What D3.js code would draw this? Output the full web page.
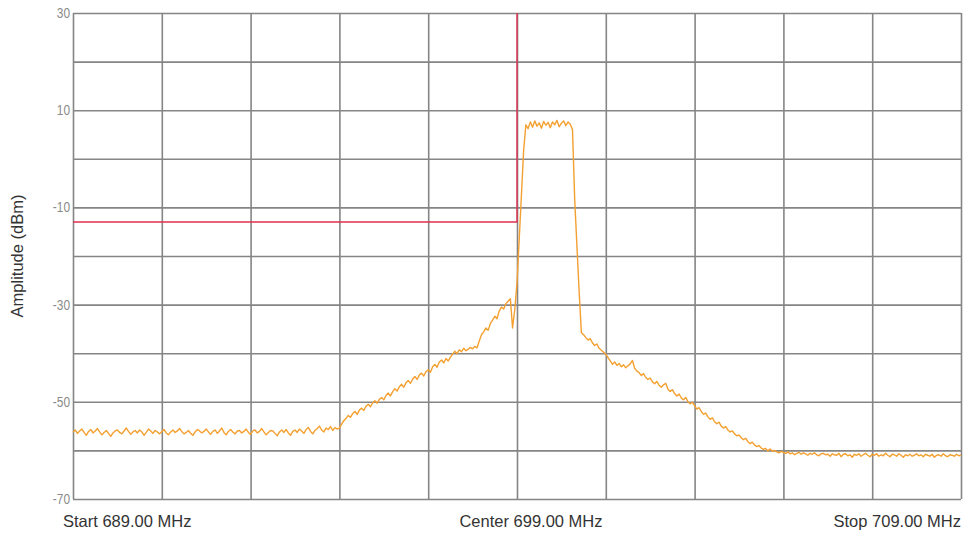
<!DOCTYPE html>
<html><head><meta charset="utf-8">
<script src="https://cdn.jsdelivr.net/npm/d3@7"></script>
<style>
html,body{margin:0;padding:0;background:#fff;}
svg{display:block;}
</style></head>
<body>
<svg id="chart" width="965" height="533"></svg>
<script>
// ---- data ----
const freqStart = 689.00, freqStop = 709.00, freqStep = 0.05; // sweep (MHz)
const xGridValues = [689,691,693,695,697,699,701,703,705,707,709];
const yGridValues = [-70,-60,-50,-40,-30,-20,-10,0,10,20,30];
const yTickLabels = [30,10,-10,-30,-50,-70];
const xLabels = ["Start 689.00 MHz","Center 699.00 MHz","Stop 709.00 MHz"];
const yTitle = "Amplitude (dBm)";
const markerFreq = 699.00;   // red marker vertical
const markerLevel = -13;     // red limit level (dBm)
// amplitude trace (dBm), one value per sweep point
const amplitude = [
-56.2,-55.8,-56.5,-56.0,-55.6,-56.3,-56.9,-56.1,-55.7,-56.4,-56.0,-55.5,-56.2,-56.8,-56.3,-55.9,-56.5,-57.1,-56.4,-56.0,
-55.8,-56.3,-56.6,-56.0,-55.4,-56.1,-56.7,-56.2,-55.9,-56.4,-55.8,-56.2,-56.9,-56.3,-55.6,-56.0,-56.5,-55.9,-56.2,-56.6,
-56.1,-55.7,-56.4,-56.8,-56.2,-55.8,-56.3,-56.0,-55.5,-56.1,-56.6,-56.3,-55.9,-56.5,-56.9,-56.2,-55.7,-56.0,-56.4,-56.1,
-55.6,-56.2,-56.7,-56.1,-55.8,-56.5,-56.0,-55.4,-56.3,-56.8,-56.1,-55.7,-56.2,-56.6,-56.0,-55.9,-56.4,-56.1,-55.6,-56.3,
-56.7,-56.0,-55.8,-56.4,-56.1,-55.5,-56.2,-56.8,-56.3,-55.9,-56.0,-56.5,-57.0,-56.2,-55.8,-56.3,-55.7,-56.4,-56.9,-56.1,
-55.8,-56.3,-55.6,-56.0,-56.5,-55.7,-55.3,-56.1,-56.6,-55.9,-55.5,-55.0,-55.8,-56.2,-55.4,-55.7,-55.1,-55.9,-55.3,-55.6,
-55.4,-54.6,-53.9,-53.4,-52.8,-53.2,-52.4,-52.0,-52.6,-51.7,-51.3,-51.8,-50.9,-50.5,-51.0,-50.2,-49.8,-50.3,-49.5,-49.1,
-49.6,-48.7,-48.2,-48.8,-47.9,-47.3,-47.8,-46.9,-46.4,-47.0,-46.1,-45.6,-46.2,-45.3,-44.8,-45.4,-44.5,-44.1,-44.7,-43.8,
-43.4,-43.9,-42.8,-42.3,-42.9,-41.8,-41.4,-42.0,-41.1,-41.6,-40.8,-40.2,-39.6,-40.1,-39.3,-39.7,-39.0,-39.5,-39.2,-38.8,
-39.1,-38.6,-38.9,-37.5,-36.2,-35.6,-34.8,-35.3,-33.9,-33.2,-32.4,-32.9,-31.3,-30.5,-30.9,-29.8,-29.3,-28.8,-34.8,-31.0,
-25.5,-16.5,-7.4,1.8,7.0,6.2,7.6,6.5,7.8,6.7,7.4,6.3,7.7,6.9,7.5,6.4,7.6,7.0,7.9,6.6,
7.3,7.8,6.8,7.6,7.1,6.0,-8.5,-18.0,-27.4,-35.8,-36.2,-36.8,-37.3,-37.0,-37.9,-38.4,-38.1,-39.0,-39.4,-39.8,
-40.2,-40.9,-41.6,-42.3,-41.8,-42.5,-42.1,-42.8,-42.4,-43.0,-42.6,-42.2,-41.5,-43.1,-43.7,-44.0,-44.6,-44.2,-45.0,-45.4,
-45.1,-45.9,-46.3,-45.8,-46.6,-47.0,-46.5,-46.2,-47.4,-47.9,-47.5,-48.3,-48.8,-48.4,-49.2,-49.6,-49.1,-50.0,-50.4,-50.1,
-50.8,-51.5,-51.2,-52.0,-52.6,-52.3,-53.1,-53.6,-53.3,-54.1,-54.5,-54.2,-55.0,-55.4,-55.1,-55.8,-56.2,-56.0,-56.6,-57.0,
-56.8,-57.4,-57.8,-57.5,-58.2,-58.6,-58.3,-58.9,-59.2,-59.0,-59.5,-59.8,-59.6,-60.1,-59.7,-60.2,-60.0,-60.3,-60.5,-60.2,
-60.4,-60.6,-60.3,-60.7,-60.5,-60.9,-60.6,-60.4,-60.8,-60.5,-60.7,-61.0,-60.6,-60.8,-60.5,-60.9,-61.1,-60.7,-60.6,-60.9,
-60.8,-61.2,-60.7,-60.9,-61.0,-60.6,-61.3,-60.8,-60.7,-61.1,-60.9,-61.4,-60.8,-61.0,-60.7,-61.2,-60.9,-60.6,-61.0,-61.3,
-60.8,-61.0,-60.7,-61.2,-60.9,-61.1,-60.6,-61.0,-61.3,-60.8,-60.9,-61.2,-60.7,-61.0,-61.4,-60.9,-61.1,-60.8,-61.2,-61.0,
-60.7,-61.1,-60.9,-61.3,-60.8,-61.0,-61.2,-60.8,-61.4,-61.0,-60.9,-61.2,-60.7,-61.1,-61.3,-60.9,-61.0,-61.2,-60.8,-61.1,-60.9
];

// ---- layout ----
const margin = {left:73, right:4, top:13, bottom:34};
const W = 965, H = 533;
const svg = d3.select("#chart");
const x = d3.scaleLinear().domain([freqStart, freqStop]).range([margin.left, W - margin.right]);
const y = d3.scaleLinear().domain([-70, 30]).range([H - margin.bottom, margin.top]);
const gridColor = "#858585";
const labFont = "Liberation Sans, Arial, sans-serif";

// vertical grid
svg.append("g").attr("transform", `translate(0,${y(-70)})`)
  .call(d3.axisBottom(x).tickValues(xGridValues).tickSize(-(y(-70) - y(30))).tickFormat(""))
  .call(g => g.select(".domain").remove())
  .call(g => g.selectAll("line").attr("stroke", gridColor).attr("stroke-width", 1.6));

// horizontal grid + y tick labels
const yAxisG = svg.append("g").attr("transform", `translate(${x(freqStart)},0)`)
  .call(d3.axisLeft(y).tickValues(yGridValues).tickSize(-(x(freqStop) - x(freqStart)))
        .tickFormat(d => yTickLabels.includes(d) ? d : ""))
  .call(g => g.select(".domain").remove())
  .call(g => g.selectAll("line").attr("stroke", gridColor).attr("stroke-width", 1.6));
yAxisG.selectAll(".tick text")
  .attr("fill", "#8a8a8a").attr("font-family", labFont).attr("font-size", 14)
  .attr("x", -3 / 0.85).attr("transform", "scale(0.85,1)");

// red marker
svg.append("path")
  .attr("d", d3.line()([[x(freqStart), y(markerLevel)], [x(markerFreq), y(markerLevel)], [x(markerFreq), y(30)]]))
  .attr("fill", "none").attr("stroke", "#e0304e").attr("stroke-width", 1.4);

// trace
const pts = amplitude.map((v, i) => [freqStart + i * freqStep, v]);
svg.append("path")
  .datum(pts)
  .attr("d", d3.line().x(d => x(d[0])).y(d => y(d[1])))
  .attr("fill", "none").attr("stroke", "#f4a030").attr("stroke-width", 1.4).attr("stroke-linejoin", "round");

// x labels
const xl = [[63, "start"], [531, "middle"], [961, "end"]];
xLabels.forEach((t, i) => {
  svg.append("text").attr("x", xl[i][0]).attr("y", 527).attr("text-anchor", xl[i][1])
    .attr("font-family", labFont).attr("font-size", 16.5).attr("fill", "#333").text(t);
});

// y title
svg.append("text").attr("transform", `translate(23,${(y(30)+y(-70))/2}) rotate(-90)`)
  .attr("text-anchor", "middle").attr("font-family", labFont).attr("font-size", 16.5).attr("fill", "#333").text(yTitle);
</script>
</body></html>
